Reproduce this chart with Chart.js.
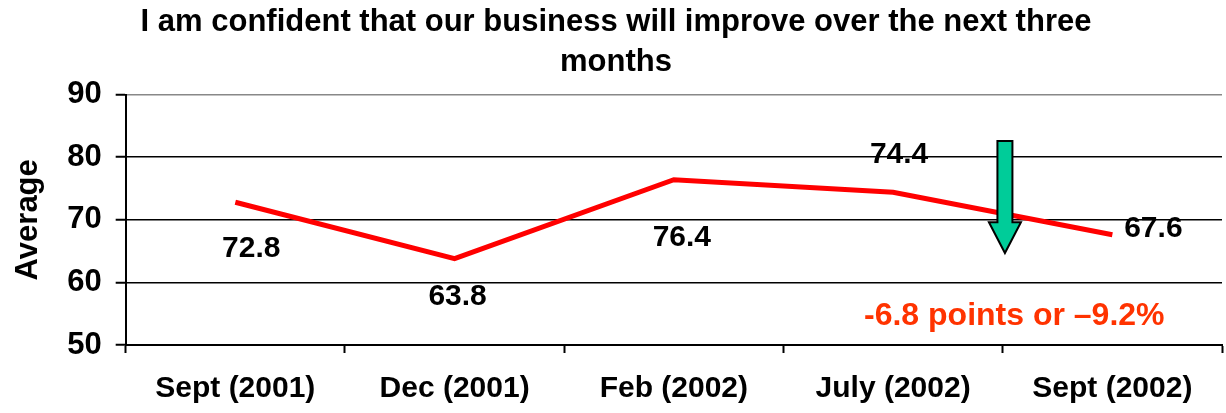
<!DOCTYPE html>
<html>
<head>
<meta charset="utf-8">
<script src="https://cdn.jsdelivr.net/npm/chart.js@4.4.1/dist/chart.umd.min.js"></script>
<style>
  html, body { margin: 0; padding: 0; background: #fff; }
  #wrap { width: 1226px; height: 413px; }
</style>
</head>
<body>
<div id="wrap"><canvas id="confidenceChart"></canvas></div>
<script>
// Data
const categories = ['Sept (2001)', 'Dec (2001)', 'Feb (2002)', 'July (2002)', 'Sept (2002)'];
const averages = [72.8, 63.8, 76.4, 74.4, 67.6];
const yTicks = [50, 60, 70, 80, 90];
const changeNote = '-6.8 points or \u20139.2%';

const FONT = "'Liberation Sans', Arial, sans-serif";

// value labels, arrow and red note
const extrasPlugin = {
  id: 'extras',
  afterDatasetsDraw(chart) {
    const ctx = chart.ctx;
    const x = chart.scales.x;
    const y = chart.scales.y;
    const meta = chart.getDatasetMeta(0);

    // label offsets from each point, like the original slide
    const offsets = [[16, 46], [3, 38], [8, 58], [6, -38], [41, -6]];
    ctx.save();
    ctx.font = 'bold 30px ' + FONT;
    ctx.fillStyle = '#000';
    ctx.textAlign = 'center';
    ctx.textBaseline = 'middle';
    meta.data.forEach((pt, i) => {
      ctx.fillText(averages[i].toFixed(1), pt.x + offsets[i][0], pt.y + offsets[i][1]);
    });

    // down arrow between July and Sept 2002
    const ax = x.getPixelForValue(3.51);
    const top = y.getPixelForValue(82.6);
    const headTop = y.getPixelForValue(69.6);
    const tip = y.getPixelForValue(64.7);
    const sw = 7.5, hw = 16;
    ctx.beginPath();
    ctx.moveTo(ax - sw, top);
    ctx.lineTo(ax + sw, top);
    ctx.lineTo(ax + sw, headTop);
    ctx.lineTo(ax + hw, headTop);
    ctx.lineTo(ax, tip);
    ctx.lineTo(ax - hw, headTop);
    ctx.lineTo(ax - sw, headTop);
    ctx.closePath();
    ctx.fillStyle = '#00cc99';
    ctx.fill();
    ctx.lineWidth = 2;
    ctx.strokeStyle = '#000';
    ctx.stroke();

    // red note
    ctx.font = 'bold 32px ' + FONT;
    ctx.fillStyle = '#ff3300';
    ctx.textAlign = 'left';
    ctx.fillText(changeNote, 864, 316);
    ctx.restore();
  }
};

const ctxLine = document.getElementById('confidenceChart').getContext('2d');

new Chart(ctxLine, {
  type: 'line',
  data: {
    labels: categories,
    datasets: [{
      data: averages,
      borderColor: '#ff0000',
      borderWidth: 5,
      pointRadius: 0,
      tension: 0,
      fill: false
    }]
  },
  options: {
    responsive: true,
    maintainAspectRatio: false,
    animation: false,
    layout: { padding: { left: 10, right: 4, top: 0, bottom: 0 } },
    scales: {
      x: {
        offset: true,
        afterFit(axis) { axis.height = 68; },
        grid: {
          offset: true,
          drawOnChartArea: false,
          drawTicks: true,
          tickLength: 8,
          tickColor: '#000',
          tickWidth: 2
        },
        border: { display: true, color: '#000', width: 2 },
        ticks: {
          color: '#000',
          padding: 18,
          maxRotation: 0,
          autoSkip: false,
          font: { family: FONT, size: 30, weight: 'bold' }
        }
      },
      y: {
        min: 50,
        max: 90,
        afterBuildTicks(axis) { axis.ticks = yTicks.map(v => ({ value: v })); },
        grid: {
          color: ctx => (ctx.tick && ctx.tick.value === 90 ? '#888' : '#000'),
          lineWidth: 1.5,
          tickLength: 10,
          tickColor: '#000',
          tickWidth: 2
        },
        border: { display: true, color: '#000', width: 2 },
        ticks: {
          color: '#000',
          padding: 14,
          font: { family: FONT, size: 31, weight: 'bold' }
        },
        title: {
          display: true,
          text: 'Average',
          color: '#000',
          padding: { top: 0, bottom: 6 },
          font: { family: FONT, size: 31, weight: 'bold' }
        }
      }
    },
    plugins: {
      title: {
        display: true,
        text: ['I am confident that our business will improve over the next three', 'months'],
        color: '#000',
        padding: { top: 2, bottom: 12 },
        font: { family: FONT, size: 31, weight: 'bold', lineHeight: 1.3 }
      },
      legend: { display: false },
      tooltip: { enabled: false }
    }
  },
  plugins: [extrasPlugin]
});
</script>
</body>
</html>
